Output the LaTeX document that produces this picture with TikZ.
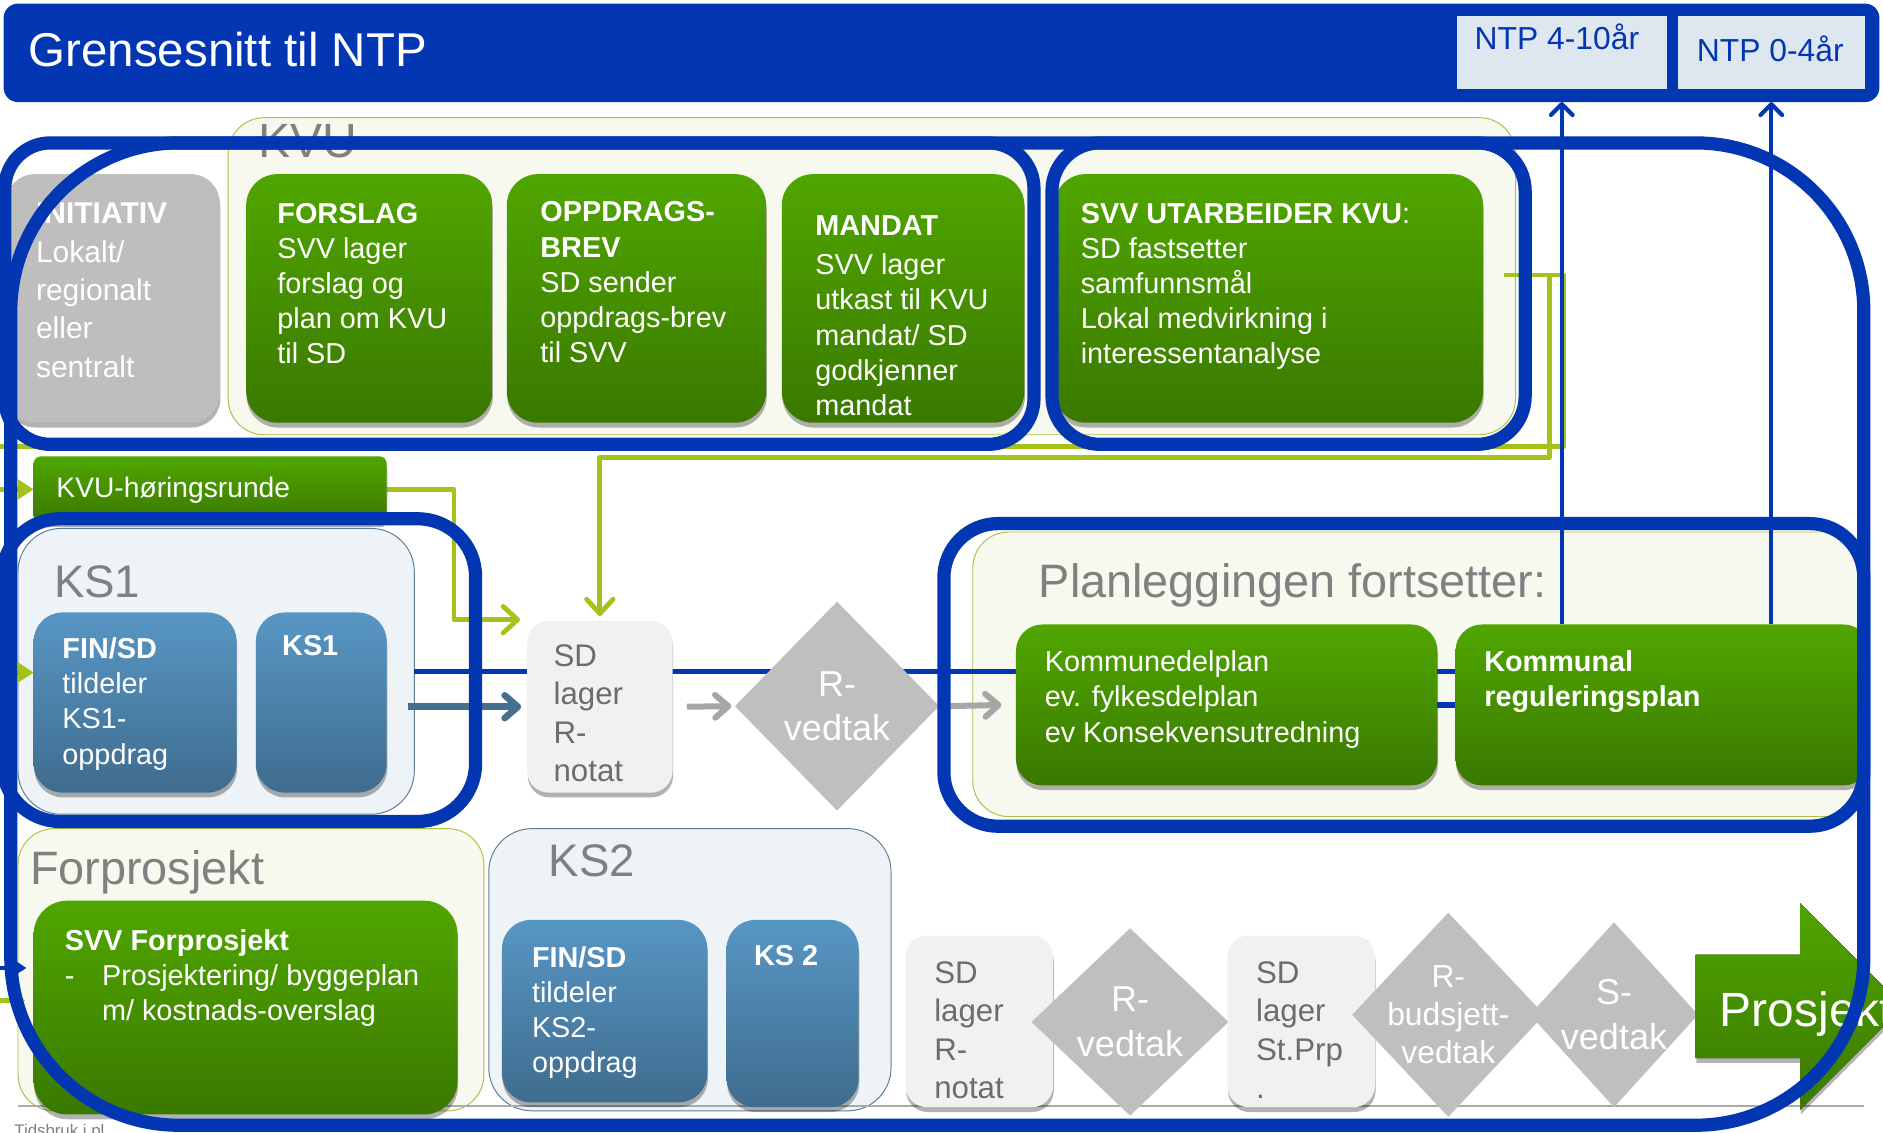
\documentclass[tikz,border=0pt]{standalone}
\usepackage{fontspec}
\setmainfont{Liberation Sans}
\usetikzlibrary{arrows.meta,shadows,calc,shapes.geometric}
\pgfdeclarelayer{bgl}
\pgfdeclarelayer{lines}
\pgfdeclarelayer{front}
\pgfsetlayers{bgl,lines,main,front}
\definecolor{ntpblue}{RGB}{3,54,179}
\definecolor{grtop}{RGB}{80,166,0}
\definecolor{grbot}{RGB}{58,120,0}
\definecolor{bltop}{RGB}{88,150,196}
\definecolor{blbot}{RGB}{63,108,142}
\definecolor{dgrey}{RGB}{191,191,191}
\definecolor{initgrey}{RGB}{190,190,190}
\definecolor{lgbox}{RGB}{241,241,241}
\definecolor{txtgrey}{RGB}{108,108,108}
\definecolor{labgrey}{RGB}{128,128,128}
\definecolor{bggreen}{RGB}{247,249,238}
\definecolor{bgline}{RGB}{170,192,70}
\definecolor{bgblue}{RGB}{238,243,247}
\definecolor{bgbline}{RGB}{92,124,152}
\definecolor{conngreen}{RGB}{163,195,27}
\definecolor{arrblue}{RGB}{68,112,143}
\definecolor{arrgrey}{RGB}{166,166,166}
\definecolor{ntpbox}{RGB}{222,230,239}
\definecolor{lineg}{RGB}{170,170,170}
\newcommand{\fsz}[2]{\fontsize{#1}{#2}\selectfont}
\begin{document}
\begin{tikzpicture}[x=1pt,y=-1pt,
  every node/.style={inner sep=0pt, outer sep=0pt},
  shd/.style={drop shadow={shadow xshift=0.5pt,shadow yshift=-4pt,opacity=0.3,fill=black}},
  gbox/.style={anchor=north west, rounded corners=26pt, top color=grtop, bottom color=grbot, shd},
  bbox/.style={anchor=north west, rounded corners=24pt, top color=bltop, bottom color=blbot, shd},
  lbox/.style={anchor=north west, rounded corners=18pt, fill=lgbox, shd},
  dia/.style={diamond, fill=dgrey, draw=none},
  dtxt/.style={text=white, align=center, font=\fsz{30}{37}},
  bgg/.style={anchor=north west, rounded corners=30pt, fill=bggreen, draw=bgline, line width=0.8pt},
  bgb/.style={anchor=north west, rounded corners=36pt, fill=bgblue, draw=bgbline, line width=0.8pt},
  wt/.style={anchor=north west, text=white, align=left, font=\fsz{24}{29.3}},
  gt/.style={anchor=north west, text=txtgrey, align=left, font=\fsz{26}{32}},
  lab/.style={anchor=north west, text=labgrey, font=\fsz{39}{44}},
  outl/.style={draw=ntpblue, line width=11pt},
  gconn/.style={draw=conngreen, line width=4pt, line join=round},
  gtip/.style={-{Straight Barb[round,length=12pt,width=22pt]}},
  grarr/.style={draw=arrgrey, line width=5pt, -{Straight Barb[round,length=11pt,width=19pt]}},
  dkarr/.style={draw=arrblue, line width=5.5pt, -{Straight Barb[round,length=11pt,width=19pt]}},
  ntparr/.style={draw=ntpblue, line width=3.5pt, -{Straight Barb[round,length=9pt,width=18pt]}}
]
\useasboundingbox (0,0) rectangle (1568,943);

% ---------- backgrounds
\begin{pgfonlayer}{bgl}
\fill[white] (0,0) rectangle (1568,943);
\node[bgg, minimum width=1072pt, minimum height=264pt] (kvubg) at (190,98) {};
\node[bgb, minimum width=330pt, minimum height=238pt] (ks1bg) at (15,440) {};
\node[bgg, minimum width=388pt, minimum height=235pt] (forbg) at (15,690) {};
\node[bgb, minimum width=335pt, minimum height=235pt] (ks2bg) at (407,690) {};
\node[bgg, minimum width=740pt, minimum height=237pt] (planbg) at (810,443) {};
\end{pgfonlayer}

% ---------- title bar
\node[anchor=north west, minimum width=1562pt, minimum height=82pt, fill=ntpblue, rounded corners=12pt] (title) at (3,3) {};
\node[anchor=north west, text=white, font=\fsz{39.5}{44}] (titleT) at (24,26.8) {Grensesnitt til NTP};
\node[anchor=north west, minimum width=175pt, minimum height=61pt, fill=ntpbox] (ntp1) at (1213,13) {};
\node[anchor=north west, text=ntpblue, font=\fsz{26.5}{30}] (ntp1T) at (1228,19.5) {NTP 4-10år};
\node[anchor=north west, minimum width=156pt, minimum height=61pt, fill=ntpbox] (ntp2) at (1397,13) {};
\node[anchor=north west, text=ntpblue, font=\fsz{26.5}{30}] (ntp2T) at (1413,29.5) {NTP 0-4år};

% ---------- labels
\node[lab, font=\fsz{40}{44}] (kvuL) at (215,104) {KVU};
\node[lab, font=\fsz{38}{42}] (ks1L) at (45,471) {KS1};
\node[lab, font=\fsz{38}{42}] (ks2L) at (457,703) {KS2};
\node[lab] (forL) at (25,708) {Forprosjekt};
\node[lab] (planL) at (865,469) {Planleggingen fortsetter:};
\node[anchor=north west, text=labgrey, font=\fsz{14}{16}] (tidL) at (12,936) {Tidsbruk i pl};

% ---------- boxes
\node[anchor=north west, rounded corners=24pt, fill=initgrey, shd, minimum width=178pt, minimum height=207pt] (init) at (5,145) {};
\node[gbox, minimum width=205pt, minimum height=207pt] (forslag) at (205,145) {};
\node[gbox, minimum width=216pt, minimum height=207pt] (oppdrag) at (422,145) {};
\node[gbox, minimum width=202pt, minimum height=207pt] (mandat) at (651,145) {};
\node[gbox, minimum width=357pt, minimum height=207pt] (utarb) at (878,145) {};
\node[gbox, rounded corners=6pt, minimum width=294pt, minimum height=55pt] (hoering) at (28,380) {};
\node[bbox, minimum width=169pt, minimum height=150pt] (fin1) at (28,510) {};
\node[bbox, minimum width=109pt, minimum height=150pt] (ks1b) at (213,510) {};
\node[lbox, minimum width=121pt, minimum height=143pt] (sd1) at (439,517) {};
\node[dia, minimum width=170pt, minimum height=174pt] (rv1) at (697,588) {};
\node[gbox, rounded corners=22pt, minimum width=351pt, minimum height=134pt] (kdp) at (846,520) {};
\node[gbox, rounded corners=22pt, minimum width=345pt, minimum height=134pt] (kreg) at (1212,520) {};
\node[gbox, rounded corners=28pt, minimum width=353pt, minimum height=178pt] (forpro) at (28,750) {};
\node[bbox, minimum width=171pt, minimum height=152pt] (fin2) at (418,766) {};
\node[bbox, minimum width=110pt, minimum height=156pt] (ks2b) at (605,766) {};
\node[lbox, minimum width=123pt, minimum height=143pt] (sd2) at (754,779) {};
\node[dia, minimum width=164pt, minimum height=156pt] (rv2) at (941,851) {};
\node[lbox, minimum width=123pt, minimum height=143pt] (sd3) at (1022,779) {};
\node[dia, minimum width=160pt, minimum height=170pt] (rb) at (1206,845) {};
\node[dia, minimum width=140pt, minimum height=154pt] (sv) at (1344,845) {};
\fill[top color=grtop, bottom color=grbot, shd] (1412,795) -- (1499,795) -- (1499,752) -- (1585,838) -- (1499,924) -- (1499,881) -- (1412,881) -- cycle;
\coordinate (pros) at (1412,838);

% ---------- texts
\node[wt, font=\fsz{25}{32}] (initT) at (30,169) {\textbf{INITIATIV}\\Lokalt/\\regionalt\\eller\\sentralt};
\node[wt] (forslagT) at (231,169) {\textbf{FORSLAG}\\SVV lager\\forslag og\\plan om KVU\\til SD};
\node[wt] (oppdragT) at (450,168) {\textbf{OPPDRAGS-}\\\textbf{BREV}\\SD sender\\oppdrags-brev\\til SVV};
\node[wt] (mandatT) at (679,180) {\textbf{MANDAT}\\[3pt]SVV lager\\utkast til KVU\\mandat/ SD\\godkjenner\\mandat};
\node[wt] (utarbT) at (900,169) {\textbf{SVV UTARBEIDER KVU}:\\SD fastsetter\\samfunnsmål\\Lokal medvirkning i\\interessentanalyse};
\node[wt, font=\fsz{23.5}{28}] (hoeringT) at (47,397.5) {KVU-høringsrunde};
\node[wt] (fin1T) at (52,531) {\textbf{FIN/SD}\\tildeler\\KS1-\\oppdrag};
\node[wt] (ks1bT) at (235,529) {\textbf{KS1}};
\node[gt] (sd1T) at (461,536.6) {SD\\lager\\R-\\notat};
\node[dtxt] (rv1T) at (rv1) {R-\\vedtak};
\node[wt] (kdpT) at (870,542) {Kommunedelplan\\ev. fylkesdelplan\\ev Konsekvensutredning};
\node[wt] (kregT) at (1236,542) {\textbf{Kommunal}\\\textbf{reguleringsplan}};
\node[wt] (forproT) at (54,774) {\textbf{SVV Forprosjekt}\\\makebox[31pt][l]{-}Prosjektering/ byggeplan\\\hspace*{31pt}m/ kostnads-overslag};
\node[wt] (fin2T) at (443,788) {\textbf{FIN/SD}\\tildeler\\KS2-\\oppdrag};
\node[wt] (ks2bT) at (628,787) {\textbf{KS 2}};
\node[gt] (sd2T) at (778,800.6) {SD\\lager\\R-\\notat};
\node[dtxt] (rv2T) at (rv2) {R-\\vedtak};
\node[gt] (sd3T) at (1046,800.6) {SD\\lager\\St.Prp\\.};
\node[dtxt, font=\fsz{26.5}{31.5}] (rbT) at (rb) {R-\\budsjett-\\vedtak};
\node[dtxt] (svT) at (sv) {S-\\vedtak};
\node[anchor=north west, text=white, font=\fsz{40}{44}] (prosT) at (1432,825.6) {Prosjekt};

% ---------- connectors
\begin{pgfonlayer}{lines}
\coordinate (gl0) at (15,921);
\coordinate (gl1) at (1552,921);
\draw[lineg, line width=1.5pt] (gl0) -- (gl1);
\draw[ntpblue, line width=4.5pt] (ks1bg.east) -- (ks1bg.east -| kreg.east);
\draw[ntpblue, line width=4.5pt] (kdp.east) -- (kreg.west);
\draw[dkarr, shorten >=5pt] ($(ks1bg.east |- sd1.west)+(-5,0)$) -- (sd1.west);
\draw[grarr] ($(sd1.east)+(12,0)$) -- ($(rv1.west)+(-3,0)$);
\draw[grarr] ($(rv1.east)+(8,0)$) -- ($(kdp.west)+(-12,0)$);
% green feedback lines
\coordinate (g0) at ($(utarb.east)+(17,-19.5)$);
\coordinate (g1) at (1290,381);
\coordinate (g2) at (1302,372);
\coordinate (g3) at (-10,372);
\draw[gconn, -{Triangle[length=13pt,width=16pt]}] (g0) -| (g2) -- (g3) |- (hoering.west);
\draw[gconn, gtip, shorten >=4pt] (g0) -| (g1) -| (sd1.north);
\draw[gconn, gtip] (hoering.east) -- ++(56,0) |- ($(sd1.north west)+(-6,-1)$);
\coordinate (g4) at (-10,560);
\draw[gconn, -{Triangle[length=13pt,width=16pt]}] (g4) -- (g4 -| fin1.west);
\coordinate (g5) at (-10,806);
\draw[ntpblue, line width=3pt, -{Triangle[length=9pt,width=11pt]}, shorten >=6pt] (g5) -- (g5 -| forpro.west);
\coordinate (g6) at (-10,833);
\draw[gconn, -{Triangle[length=11pt,width=14pt]}, shorten >=7pt] (g6) -- (g6 -| forpro.west);
\end{pgfonlayer}

% ---------- blue outlines and NTP arrows
\begin{pgfonlayer}{front}
\draw[outl, rounded corners=140pt] (9,119) rectangle (1552,937);
\draw[outl, rounded corners=38pt] (4,119) rectangle (861,370);
\draw[outl, rounded corners=40pt] (876,119) rectangle (1270,370);
\draw[outl, rounded corners=48pt] (2,432) rectangle (396,684);
\draw[outl, rounded corners=45pt] (786,436) rectangle (1552,688);
\draw[ntparr] (kreg.north -| ntp1.south) -- (ntp1.south |- title.south);
\draw[ntparr] (kreg.north -| ntp2.south) -- (ntp2.south |- title.south);
\end{pgfonlayer}
\end{tikzpicture}
\end{document}
